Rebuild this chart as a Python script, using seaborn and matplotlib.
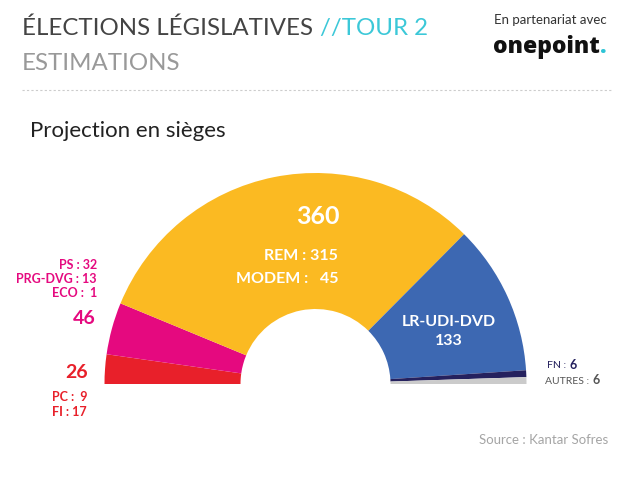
import matplotlib
matplotlib.use("Agg")
import matplotlib.pyplot as plt
import seaborn as sns
from matplotlib.lines import Line2D

# ---- data ----
groups = ["PC-FI", "PS-PRG-ECO", "REM-MODEM", "LR-UDI-DVD", "FN", "AUTRES"]
seats = [26, 46, 360, 133, 6, 6]
colors = ["#E8202A", "#E5097F", "#FBBA22", "#3D68B2", "#25215E", "#CBCBCB"]
left_top_labels = ["PS : 32", "PRG-DVG : 13", "ECO :  1"]
left_bottom_labels = ["PC :  9", "FI : 17"]
rem_lines = ["REM : 315", "MODEM :   45"]

sns.set_theme(style="white")
plt.rcParams["font.family"] = ["Lato", "DejaVu Sans"]

W, H = 630, 483
fig = plt.figure(figsize=(W / 100, H / 100), dpi=100)
ax = fig.add_axes([0, 0, 1, 1])

def Y(py):
    return H - py

# half donut: add invisible lower half
total = sum(seats)
vals = seats + [total]
cols = colors + [(1, 1, 1, 0)]
cx, cy, R, w = 315.5, Y(384), 211, 136
ax.pie(vals, colors=cols, startangle=180, counterclock=False,
       center=(cx, cy), radius=R, frame=True,
       wedgeprops=dict(width=w, linewidth=0))
ax.set_xlim(0, W)
ax.set_ylim(0, H)
ax.set_aspect("equal")
ax.axis("off")

renderer = fig.canvas.get_renderer()

def right_edge(t):
    bb = t.get_window_extent(renderer=renderer)
    return bb.x1

# ---- header ----
t1 = ax.text(22, Y(28), "ÉLECTIONS LÉGISLATIVES ", fontsize=17.3, color="#444444",
             fontweight="normal", va="center", ha="left")
ax.text(right_edge(t1) + 1, Y(28), "//TOUR 2", fontsize=17.3, color="#3CC8D8",
        fontweight="normal", va="center", ha="left")
ax.text(22, Y(64), "ESTIMATIONS", fontsize=17.3, color="#999999",
        fontweight="normal", va="center", ha="left")
ax.text(494, Y(20), "En partenariat avec", fontsize=9.5, color="#333333",
        va="center", ha="left")
t2 = ax.text(493, Y(47), "onepoint", fontsize=16.5, color="#111111",
             family=["Open Sans", "DejaVu Sans"], fontweight=800,
             va="center", ha="left")
ax.text(right_edge(t2), Y(47), ".", fontsize=16.5, color="#2EC4D6",
        family=["Open Sans", "DejaVu Sans"], fontweight=800,
        va="center", ha="left")
fig.add_artist(Line2D([22 / W, 612 / W], [1 - 90 / H, 1 - 90 / H],
                      color="#cccccc", lw=0.8, ls=(0, (2, 2))))

ax.text(30, Y(131), "Projection en sièges", fontsize=16, color="#222222",
        va="center", ha="left")

# ---- labels on the arc ----
ax.text(318, Y(216), str(seats[2]), fontsize=18, color="white",
        fontweight="bold", va="center", ha="center")
ax.text(338, Y(256), rem_lines[0], fontsize=11.5, color="white",
        fontweight="bold", va="center", ha="right")
ax.text(338, Y(279), rem_lines[1], fontsize=11.5, color="white",
        fontweight="bold", va="center", ha="right")
ax.text(449, Y(322), groups[3], fontsize=11.5, color="white",
        fontweight="bold", va="center", ha="center")
ax.text(449, Y(341), str(seats[3]), fontsize=11.5, color="white",
        fontweight="bold", va="center", ha="center")

# left labels
for i, t in enumerate(left_top_labels):
    ax.text(97, Y(265 + 14 * i), t, fontsize=9, color=colors[1],
            fontweight="bold", va="center", ha="right")
ax.text(96, Y(318), str(seats[1]), fontsize=14, color=colors[1],
        fontweight="bold", va="center", ha="right")
ax.text(88, Y(372), str(seats[0]), fontsize=14, color=colors[0],
        fontweight="bold", va="center", ha="right")
for i, t in enumerate(left_bottom_labels):
    ax.text(87, Y(397 + 15 * i), t, fontsize=9, color=colors[0],
            fontweight="bold", va="center", ha="right")

# right labels
t3 = ax.text(547, Y(366), "FN : ", fontsize=7.5, color=colors[4],
             va="center", ha="left")
ax.text(right_edge(t3) + 1, Y(365), str(seats[4]), fontsize=9, color=colors[4],
        fontweight="bold", va="center", ha="left")
t4 = ax.text(545, Y(381), "AUTRES : ", fontsize=7.5, color="#555555",
             va="center", ha="left")
ax.text(right_edge(t4) + 1, Y(380), str(seats[5]), fontsize=9, color="#555555",
        fontweight="bold", va="center", ha="left")

ax.text(608, Y(440), "Source : Kantar Sofres", fontsize=9.5, color="#a5a5a5",
        fontweight="normal", va="center", ha="right")

fig.savefig("out.png", dpi=100, facecolor="white")
